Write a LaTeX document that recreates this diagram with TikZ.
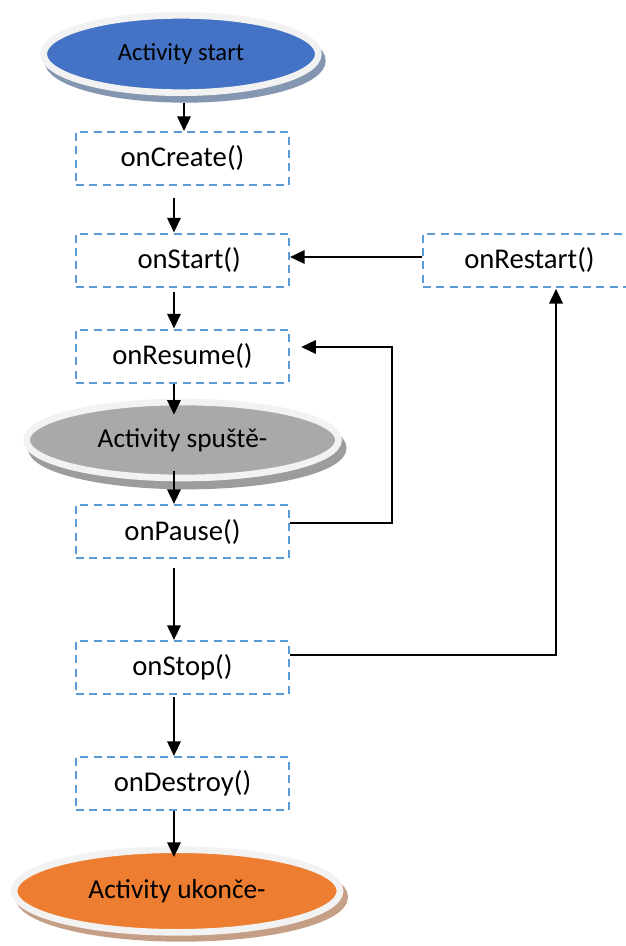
\documentclass[tikz,border=0pt]{standalone}
\usepackage{fontspec}
\setmainfont{Carlito}
\usetikzlibrary{shapes.geometric,arrows.meta,shadows}
\definecolor{boxblue}{HTML}{5B9BD5}
\definecolor{rimgray}{HTML}{F2F2F2}
\definecolor{startblue}{HTML}{4472C4}
\definecolor{startshade}{HTML}{8496B0}
\definecolor{rungray}{HTML}{A9A9A9}
\definecolor{runshade}{HTML}{9C9C9C}
\definecolor{endorange}{HTML}{ED7D31}
\definecolor{endshade}{HTML}{C59E86}
\begin{document}
\begin{tikzpicture}[x=0.75pt,y=-0.75pt]
\tikzstyle{stepbox} = [rectangle, draw=boxblue, dash pattern=on 6pt off 4pt, line width=1.5pt, minimum width=159.75pt, minimum height=39.75pt, text centered, font=\fontsize{21.5}{26}\selectfont]
\tikzstyle{ovalnode} = [ellipse, draw=rimgray, line width=5pt, inner sep=0pt, font=\fontsize{20.5}{24}\selectfont]
\tikzstyle{flow} = [-{Triangle[width=10pt,length=11pt]}, line width=1.7pt, black]
\useasboundingbox (0,0) rectangle (625,946);
\node (actstart)[ovalnode, fill=startblue, minimum width=206pt, minimum height=58pt, font=\fontsize{18.5}{22}\selectfont,
  drop shadow={shadow xshift=3pt, shadow yshift=-5pt, fill=startshade, draw=startshade, opacity=1}] at (181,54) {Activity start};
\node (create)[stepbox] at (182.5,158.5) {onCreate()};
\node (start)[stepbox] at (182.5,260) {\hspace{10pt}onStart()};
\node (restart)[stepbox] at (529.5,260) {onRestart()};
\node (resume)[stepbox] at (182.5,356) {onResume()};
\node (running)[ovalnode, fill=rungray, minimum width=234pt, minimum height=57pt,
  drop shadow={shadow xshift=3.5pt, shadow yshift=-6pt, fill=runshade, draw=runshade, opacity=1}] at (182.5,440) {Activity spuště-};
\node (pause)[stepbox] at (182.5,531.5) {onPause()};
\node (stop)[stepbox] at (182.5,667.5) {onStop()};
\node (destroy)[stepbox] at (182.5,783.5) {onDestroy()};
\node (actend)[ovalnode, fill=endorange, minimum width=244.5pt, minimum height=62pt,
  drop shadow={shadow xshift=3.5pt, shadow yshift=-4.5pt, fill=endshade, draw=endshade, opacity=1}] at (177,891) {Activity ukonče-};
\coordinate (pausebend) at (392,347);
\draw [flow, shorten <=5pt] ([xshift=2.25pt]actstart.south) -- ([xshift=2.25pt]actstart.south |- create.north);
\draw [flow, shorten <=9pt] ([xshift=-6.4pt]create.south) -- ([xshift=-6.4pt]start.north);
\draw [flow, shorten <=3pt] ([xshift=-6.4pt]start.south) -- ([xshift=-6.4pt]resume.north);
\draw [flow, shorten >=-12pt] ([xshift=-6.4pt]resume.south) -- ([xshift=-6.4pt]running.north);
\draw [flow, shorten <=-8pt] ([xshift=-6.4pt]running.south) -- ([xshift=-6.4pt]pause.north);
\draw [flow, shorten <=6.75pt] ([xshift=-6.4pt]pause.south) -- ([xshift=-6.4pt]stop.north);
\draw [flow, shorten <=1.5pt] ([xshift=-6.4pt]stop.south) -- ([xshift=-6.4pt]destroy.north);
\draw [flow, shorten >=-8pt] ([xshift=-6.4pt]destroy.south) -- ([xshift=-6.4pt]destroy.south |- actend.north);
\draw [flow] ([yshift=2.25pt]restart.west) -- ([yshift=2.25pt]start.east);
\draw [flow, shorten >=8.4pt] ([yshift=6.4pt]pause.east) -| (pausebend) -- (resume.east |- pausebend);
\draw [flow, shorten >=1pt] ([yshift=9.4pt]stop.east) -| ([xshift=19.9pt]restart.south);
\end{tikzpicture}
\end{document}
